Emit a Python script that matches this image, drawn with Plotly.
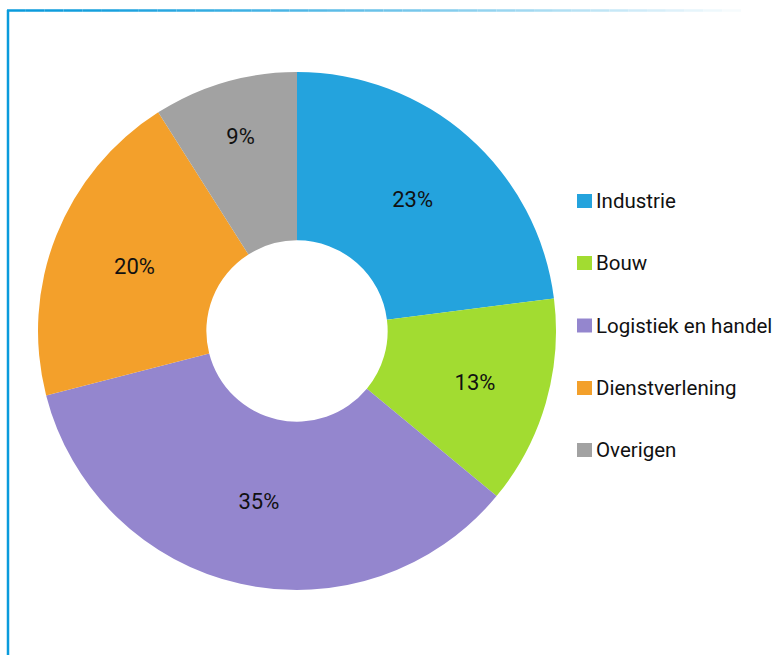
import plotly.graph_objects as go

W, H = 781, 655

labels = ["Industrie", "Bouw", "Logistiek en handel", "Dienstverlening", "Overigen"]
values = [23, 13, 35, 20, 9]
colors = ["#24A3DD", "#A2DC31", "#9486CE", "#F3A02B", "#A2A2A2"]

FONT = "Roboto, sans-serif"

def px(x):
    return x / W

def py(y):
    return 1 - y / H

fig = go.Figure()
fig.add_trace(go.Pie(
    labels=labels,
    values=values,
    sort=False,
    direction="clockwise",
    rotation=0,
    hole=0.35,
    marker=dict(colors=colors, line=dict(width=0)),
    texttemplate="%{value}%",
    textposition="inside",
    insidetextorientation="horizontal",
    textfont=dict(family=FONT, size=22, color="#111111"),
    showlegend=False,
    hoverinfo="label+percent",
    domain=dict(x=[px(38), px(556)], y=[py(590), py(72)]),
))

shapes = []
# frame: left line
shapes.append(dict(type="line", xref="paper", yref="paper",
                   x0=px(8), x1=px(8), y0=py(10), y1=py(H + 2),
                   line=dict(color="#0A9BDC", width=2.5)))
# frame: top line fading to the right
n = 40
x_start, x_end = 7, 760
c0 = (10, 155, 220)
for i in range(n):
    t = i / (n - 1)
    a = 1 - t ** 1.3
    r = int(c0[0] * a + 255 * (1 - a))
    g = int(c0[1] * a + 255 * (1 - a))
    b = int(c0[2] * a + 255 * (1 - a))
    xa = x_start + (x_end - x_start) * i / n
    xb = x_start + (x_end - x_start) * (i + 1) / n
    shapes.append(dict(type="line", xref="paper", yref="paper",
                       x0=px(xa), x1=px(xb), y0=py(10.5), y1=py(10.5),
                       line=dict(color=f"rgb({r},{g},{b})", width=2.5)))

# custom legend
legend_y = [201, 263, 325.5, 388, 450]
annotations = []
for lab, col, yy in zip(labels, colors, legend_y):
    shapes.append(dict(type="rect", xref="paper", yref="paper",
                       x0=px(577), x1=px(592), y0=py(yy + 7), y1=py(yy - 7),
                       fillcolor=col, line=dict(width=0)))
    annotations.append(dict(xref="paper", yref="paper", x=px(594), y=py(yy),
                            xanchor="left", yanchor="middle", showarrow=False,
                            text=lab, font=dict(family=FONT, size=20.5, color="#111111")))

fig.update_layout(
    width=W, height=H,
    margin=dict(l=0, r=0, t=0, b=0),
    paper_bgcolor="white",
    plot_bgcolor="white",
    shapes=shapes,
    annotations=annotations,
)

fig.write_html("out.html")
